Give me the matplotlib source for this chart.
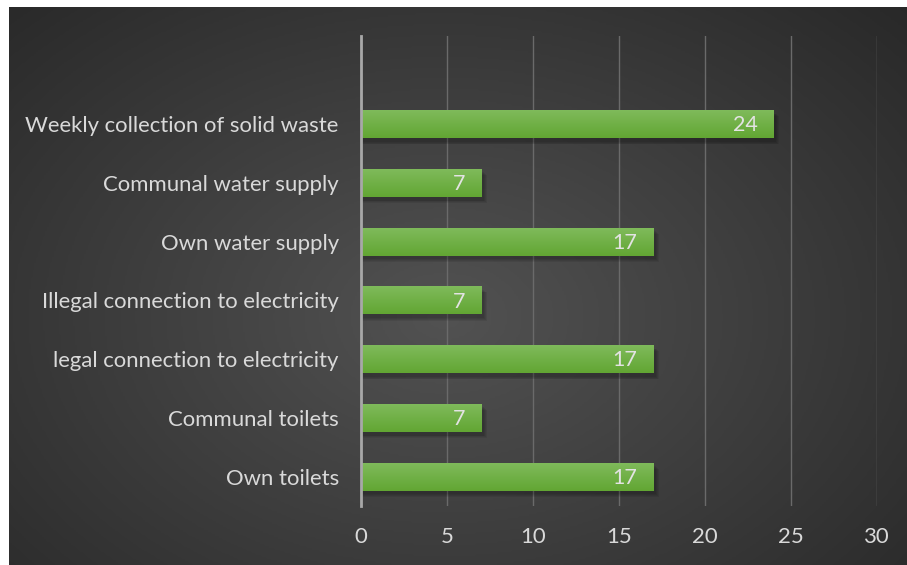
import numpy as np
import matplotlib.pyplot as plt
from matplotlib.colors import LinearSegmentedColormap

# categories from bottom to top, with counts
categories = ['Own toilets', 'Communal toilets', 'legal connection to electricity',
              'Illegal connection to electricity', 'Own water supply',
              'Communal water supply', 'Weekly collection of solid waste']
counts = [17, 7, 17, 7, 17, 7, 24]
xticks = [0, 5, 10, 15, 20, 25, 30]

W, H = 907, 565
fig = plt.figure(figsize=(W / 100, H / 100), dpi=100, facecolor='white')

# dark panel with a radial gradient
bg = fig.add_axes([9 / W, -0.01, 1, (558 / H) + 0.01])
bg.set_axis_off()
yy, xx = np.mgrid[0:1:300j, 0:1:500j]
r = np.sqrt(((xx - 0.48) / 0.75) ** 2 + ((yy - 0.55) / 0.85) ** 2)
shade = np.clip(1 - r, 0, 1)
bg_cmap = LinearSegmentedColormap.from_list('bg', ['#262626', '#525252'])
bg.imshow(shade, cmap=bg_cmap, aspect='auto', extent=[0, 1, 0, 1], vmin=0, vmax=1,
          interpolation='bilinear')
bg.set_xlim(0, 1)
bg.set_ylim(0, 1)

ax = fig.add_axes([361 / W, (H - 506) / H, (877 - 361) / W, (506 - 36) / H])
ax.patch.set_alpha(0)
ypos = np.arange(len(categories))
bar_h = 0.48

# soft shadow under each bar
for k in range(4):
    ax.barh(ypos - 0.06 - k * 0.015, [c + 0.15 + k * 0.05 for c in counts], height=bar_h,
            color='black', alpha=0.07, zorder=2, linewidth=0)

bars = ax.barh(ypos, counts, height=bar_h, color='#70b046', zorder=3, linewidth=0)

# vertical gradient fill on the bars, lighter on top
grad = np.linspace(0, 1, 64).reshape(-1, 1)
bar_cmap = LinearSegmentedColormap.from_list('bar', ['#80bb5c', '#62a633'])
for b in bars:
    x0, y0 = b.get_x(), b.get_y()
    im = ax.imshow(grad, cmap=bar_cmap, aspect='auto', zorder=4,
                   extent=[x0, x0 + b.get_width(), y0, y0 + b.get_height()])
    im.set_clip_path(b)

for y, c in zip(ypos, counts):
    ax.text(c - 0.95, y - 0.02, str(c), ha='right', va='center', color='#e3e3e3',
            fontsize=15.5, family='Lato', zorder=5)

ax.set_xlim(0, 30)
ax.set_ylim(-0.5, 7.5)
ax.set_xticks(xticks)
ax.set_yticks(ypos)
ax.set_yticklabels(categories)
ax.grid(axis='x', color='#6a6a6a', linewidth=1, zorder=1)
ax.set_axisbelow(True)
for s in ['top', 'right', 'bottom']:
    ax.spines[s].set_visible(False)
ax.spines['left'].set_color('#a8a8a8')
ax.spines['left'].set_linewidth(2)
ax.spines['left'].set_zorder(6)
ax.tick_params(axis='both', length=0, colors='#d9d9d9', labelsize=15.9)
ax.tick_params(axis='x', pad=15)
ax.tick_params(axis='y', pad=16)
for lbl in ax.get_xticklabels() + ax.get_yticklabels():
    lbl.set_family('Lato')

fig.savefig('out.png', dpi=100, facecolor='white')
